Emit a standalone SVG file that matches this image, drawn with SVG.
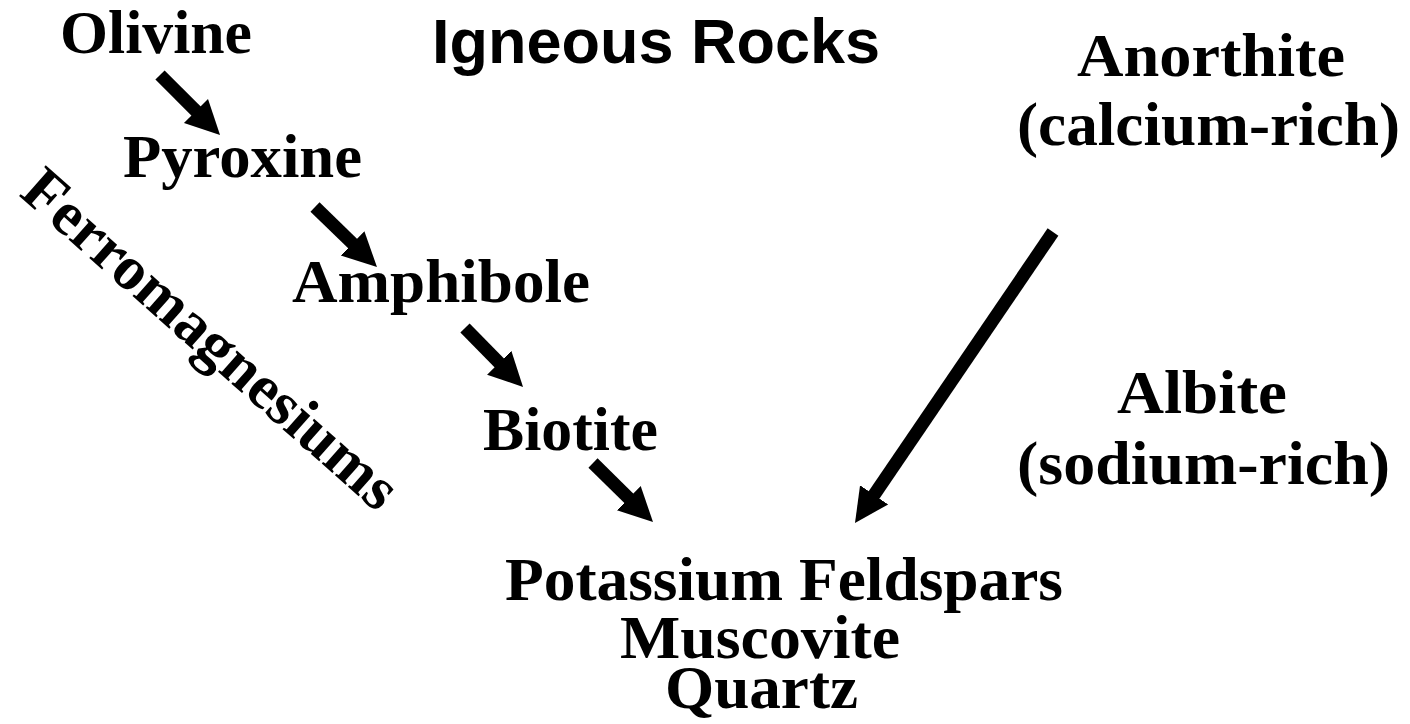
<svg xmlns="http://www.w3.org/2000/svg" width="1410" height="724" viewBox="0 0 1410 724">
<style>
.t{font-family:"Liberation Serif","Times New Roman",serif;font-weight:bold;font-size:62px;fill:#000}
.h{font-family:"Liberation Sans",Arial,sans-serif;font-weight:bold;font-size:63px;fill:#000}
.a{stroke:#000;stroke-width:13;fill:none;marker-end:url(#ah)}
</style>
<defs>
<marker id="ah" markerUnits="userSpaceOnUse" markerWidth="36" markerHeight="38" viewBox="0 -18 36 36" refX="2" refY="0" orient="auto">
<path d="M0,-17 L34,0 L0,17 z" fill="#000"/>
</marker>
</defs>
<rect width="1410" height="724" fill="#fff"/>
<g id="title"><text class="h" x="432" y="63" textLength="448" lengthAdjust="spacingAndGlyphs">Igneous Rocks</text></g>
<g id="olivine"><text class="t" x="60" y="53" textLength="192" lengthAdjust="spacingAndGlyphs">Olivine</text></g>
<g id="pyroxine"><text class="t" x="123" y="177" textLength="239" lengthAdjust="spacingAndGlyphs">Pyroxine</text></g>
<g id="amphibole"><text class="t" x="292" y="302" textLength="298" lengthAdjust="spacingAndGlyphs">Amphibole</text></g>
<g id="biotite"><text class="t" x="483" y="450" textLength="175" lengthAdjust="spacingAndGlyphs">Biotite</text></g>
<g id="ferromagnesiums"><text class="t" transform="translate(18,195) rotate(41.5)" x="0" y="0" textLength="480" lengthAdjust="spacingAndGlyphs">Ferromagnesiums</text></g>
<g id="final">
<text class="t" x="505" y="600" textLength="558" lengthAdjust="spacingAndGlyphs">Potassium Feldspars</text>
<text class="t" x="620" y="658" textLength="280" lengthAdjust="spacingAndGlyphs">Muscovite</text>
<text class="t" x="665" y="708" textLength="193" lengthAdjust="spacingAndGlyphs">Quartz</text>
</g>
<g id="anorthite">
<text class="t" x="1077" y="76" textLength="268" lengthAdjust="spacingAndGlyphs">Anorthite</text>
<text class="t" x="1017" y="145" textLength="383" lengthAdjust="spacingAndGlyphs">(calcium-rich)</text>
</g>
<g id="albite">
<text class="t" x="1117" y="413" textLength="170" lengthAdjust="spacingAndGlyphs">Albite</text>
<text class="t" x="1017" y="484" textLength="373" lengthAdjust="spacingAndGlyphs">(sodium-rich)</text>
</g>
<g id="connectors">
<path class="a" d="M160,75 L197.4,112.4"/>
<path class="a" d="M315,207 L354,244.8"/>
<path class="a" d="M465,328 L500.6,364.2"/>
<path class="a" d="M593,463 L630.2,499.6"/>
<path class="a" d="M1053,232 L873,496.5"/>
</g>
</svg>
